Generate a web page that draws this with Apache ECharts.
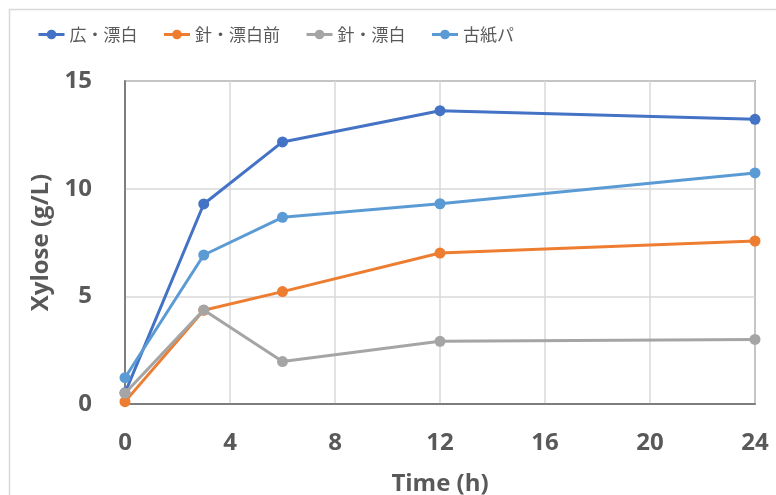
<!DOCTYPE html>
<html>
<head>
<meta charset="utf-8">
<script src="https://cdn.jsdelivr.net/npm/echarts@6/dist/echarts.min.js"></script>
<style>html,body{margin:0;padding:0;background:#fff}#c{width:776px;height:495px}</style>
</head>
<body>
<div id="c"></div>
<script>
const times = [0, 3, 6, 12, 24];
const seriesNames = ['広・漂白', '針・漂白前', '針・漂白', '古紙パ'];
const hiroHyohaku = [0.52, 9.29, 12.17, 13.62, 13.22];
const hariHyohakuMae = [0.11, 4.35, 5.22, 7.01, 7.57];
const hariHyohaku = [0.50, 4.37, 1.97, 2.91, 3.00];
const koshiPa = [1.22, 6.92, 8.67, 9.30, 10.73];
const xTicks = [0, 4, 8, 12, 16, 20, 24];
const yTicks = [0, 5, 10, 15];

const colors = ['#4472C4', '#ED7D31', '#A5A5A5', '#5B9BD5'];
const values = [hiroHyohaku, hariHyohakuMae, hariHyohaku, koshiPa];
const labelFont = '"Open Sans", sans-serif';

const chart = echarts.init(document.getElementById('c'), null, {renderer: 'canvas'});
chart.setOption({
  animation: false,
  backgroundColor: '#fff',
  color: colors,
  graphic: [{
    type: 'rect', left: 7, top: 7, shape: {x: 0, y: 0, width: 800, height: 520},
    style: {fill: 'none', stroke: '#D9D9D9', lineWidth: 1.5}, silent: true, z: -1
  }],
  legend: {
    left: 37, top: 26, padding: 0, itemWidth: 26, itemHeight: 12, itemGap: 25,
    lineStyle: {width: 3},
    textStyle: {fontFamily: '"Noto Sans CJK JP", sans-serif', fontSize: 17, color: '#595959'},
    data: seriesNames
  },
  grid: {left: 125, right: 21, top: 81, bottom: 91, show: true, borderColor: '#666', borderWidth: 1.5,
         containLabel: false, outerBoundsMode: 'none'},
  xAxis: {
    type: 'value', min: xTicks[0], max: xTicks[xTicks.length - 1], interval: 4,
    name: 'Time (h)', nameLocation: 'middle', nameGap: 68,
    nameTextStyle: {fontFamily: labelFont, fontSize: 24, fontWeight: 'bold', color: '#595959'},
    axisLine: {show: true, lineStyle: {color: '#666', width: 1.5}},
    axisTick: {show: false},
    axisLabel: {margin: 27, fontFamily: labelFont, fontSize: 24, fontWeight: 'bold', color: '#595959'},
    splitLine: {show: true, lineStyle: {color: '#D9D9D9', width: 1.5}}
  },
  yAxis: {
    type: 'value', min: yTicks[0], max: yTicks[yTicks.length - 1], interval: 5,
    name: 'Xylose (g/L)', nameLocation: 'middle', nameGap: 71,
    nameTextStyle: {fontFamily: labelFont, fontSize: 24, fontWeight: 'bold', color: '#595959'},
    axisLine: {show: true, lineStyle: {color: '#666', width: 1.5}},
    axisTick: {show: false},
    axisLabel: {margin: 33, fontFamily: labelFont, fontSize: 24, fontWeight: 'bold', color: '#595959'},
    splitLine: {show: true, lineStyle: {color: '#D9D9D9', width: 1.5}}
  },
  series: seriesNames.map((n, i) => ({
    name: n, type: 'line',
    data: times.map((t, j) => [t, values[i][j]]),
    symbol: 'circle', symbolSize: 11,
    lineStyle: {width: 3, color: colors[i]},
    itemStyle: {color: colors[i]},
    z: 2 + i
  }))
});
</script>
</body>
</html>
